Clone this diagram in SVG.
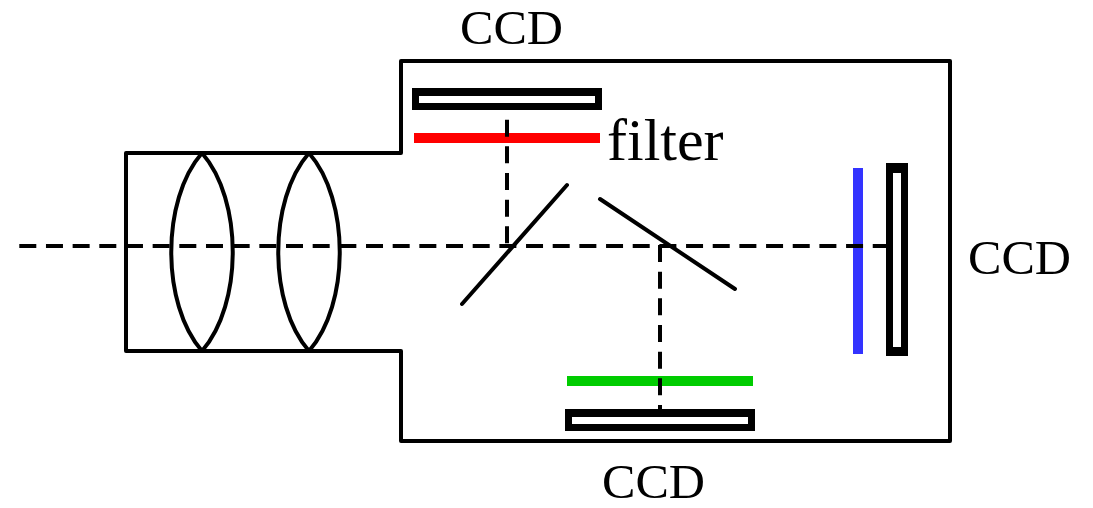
<svg xmlns="http://www.w3.org/2000/svg" width="1093" height="508" viewBox="0 0 1093 508">
<style>
.s{fill:none;stroke:#000;stroke-width:4;stroke-linejoin:round;stroke-linecap:round}
.d{fill:none;stroke:#000;stroke-width:4;stroke-dasharray:17 9.67}
.t{font-family:"Liberation Serif",serif;fill:#000;font-size:48px}
.o{fill:#000}
.i{fill:#fff}
</style>
<rect width="1093" height="508" fill="#fff"/>
<g id="housing"><path class="s" d="M401 153V61H950V441H401V351H126V153Z"/></g>
<g id="lens1"><path class="s" d="M202 153C161 200 161 304 202 351C243 304 243 200 202 153Z"/></g>
<g id="lens2"><path class="s" d="M309 153C268 200 268 304 309 351C350 304 350 200 309 153Z"/></g>
<g id="filter-red"><rect x="414" y="133" width="186" height="10" fill="#f00"/></g>
<g id="filter-green"><rect x="567" y="376" width="186" height="10" fill="#0c0"/></g>
<g id="filter-blue"><rect x="853" y="168" width="10" height="186" fill="#33f"/></g>
<g id="mirror1"><line class="s" x1="462" y1="304" x2="567" y2="185"/></g>
<g id="mirror2"><line class="s" x1="600" y1="199" x2="735" y2="289"/></g>
<g id="connectors">
<line class="d" x1="19.3" y1="246" x2="890" y2="246"/>
<line class="d" x1="507" y1="93" x2="507" y2="246"/>
<line class="d" x1="660" y1="245" x2="660" y2="412"/>
</g>
<g id="ccd-top"><rect class="o" x="412" y="88" width="190" height="22"/><rect class="i" x="419" y="96" width="176" height="7"/></g>
<g id="ccd-right"><rect class="o" x="886" y="163" width="22" height="193"/><rect class="i" x="893" y="173" width="8" height="174"/></g>
<g id="ccd-bottom"><rect class="o" x="565" y="409" width="190" height="22"/><rect class="i" x="572" y="417" width="176" height="7"/></g>
<g id="labels">
<text class="t" x="460" y="44" textLength="103" lengthAdjust="spacingAndGlyphs">CCD</text>
<text class="t" x="968" y="274" textLength="103" lengthAdjust="spacingAndGlyphs">CCD</text>
<text class="t" x="602" y="497.5" textLength="103" lengthAdjust="spacingAndGlyphs">CCD</text>
<text class="t" x="607" y="160" style="font-size:60px">filter</text>
</g>
</svg>
